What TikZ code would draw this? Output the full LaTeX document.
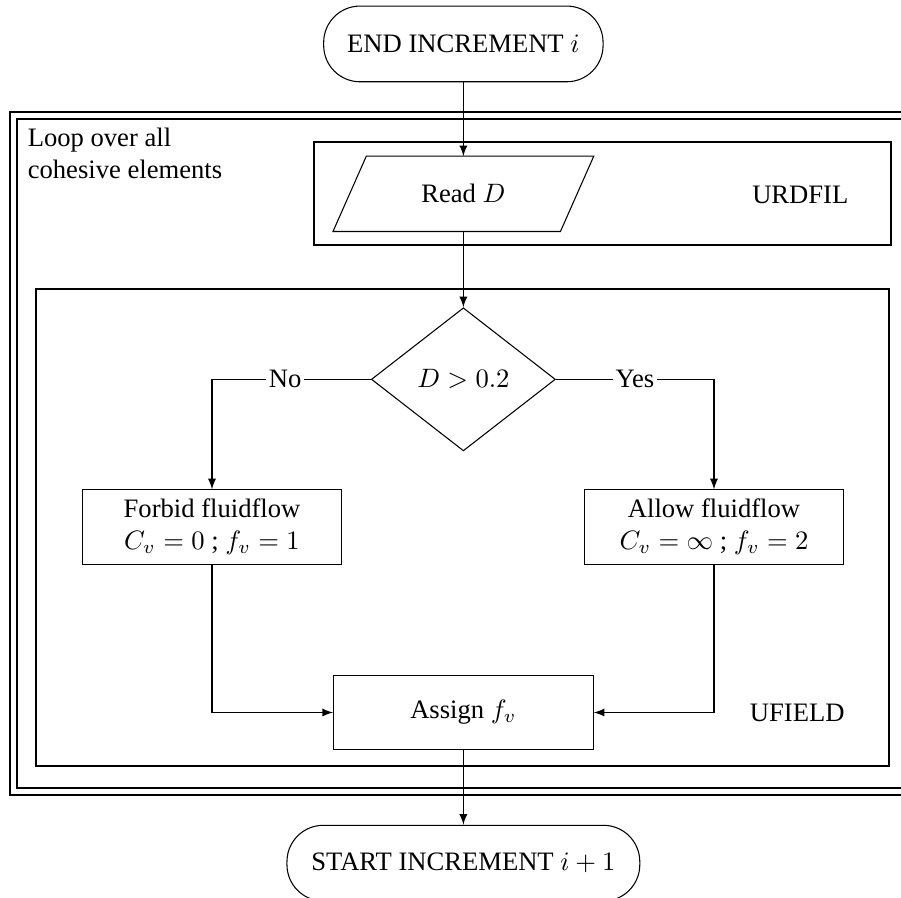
\documentclass[tikz,border=0pt]{standalone}
\usepackage[no-math]{fontspec}
\setmainfont{Liberation Serif}
\usepackage{amsmath}
\usetikzlibrary{shapes,arrows,positioning,calc}

\begin{document}
\begin{tikzpicture}[
    terminal/.style={rectangle, draw, rounded corners=0.48cm, minimum height=1cm, inner sep=0pt},
    process/.style={rectangle, draw, minimum width=3.43cm, minimum height=0.98cm, align=center, inner sep=0pt},
    io/.style={rectangle, minimum width=3.43cm, minimum height=0.98cm, inner sep=0pt},
    decision/.style={diamond, draw, minimum width=2.43cm, minimum height=1.89cm, inner sep=0pt},
    module/.style={rectangle, draw, line width=0.75pt, inner sep=0pt},
    loopframe/.style={rectangle, draw, double, double distance=1.8pt, line width=0.75pt, inner sep=0pt},
    branch/.style={fill=white, inner sep=1pt},
    arrow/.style={->, >=latex}
]
    \useasboundingbox (0,0) rectangle (11.90,-11.86);

    % loop over the cohesive elements, with the two user subroutines inside
    \node[loopframe, minimum width=11.87cm, minimum height=8.92cm] (loop) at (6.115,-5.99) {};
    \node[anchor=north west, align=left, inner sep=0pt] (looptext) at (0.36,-1.68) {Loop over all\\cohesive elements};
    \node[module, minimum width=7.62cm, minimum height=1.36cm] (urdfil) at (7.96,-2.56) {};
    \node[module, minimum width=11.26cm, minimum height=6.30cm] (ufield) at (6.11,-6.97) {};
    \node (urdfiltext) at (10.57,-2.58) {URDFIL};
    \node (ufieldtext) at (10.53,-9.41) {UFIELD};

    \node[terminal, minimum width=3.69cm] (endinc) at (6.12,-0.58) {END INCREMENT $i$};
    \node[io] (read) at (6.12,-2.56) {Read $D$};
    \draw (read.south west) -- ($(read.north west)+(0.44,0)$) -- (read.north east)
        -- ($(read.south east)-(0.44,0)$) -- cycle;
    \node[decision] (dec) at (6.12,-5.01) {$D > 0.2$};
    \node[process] (forbid) at (2.80,-6.96) {Forbid fluidflow\\$C_v = 0$ ; $f_v = 1$};
    \node[process] (allow) at (9.43,-6.96) {Allow fluidflow\\$C_v = \infty$ ; $f_v = 2$};
    \node[process] (assign) at (6.12,-9.41) {Assign $f_v$};
    \node[terminal, minimum width=4.66cm] (startinc) at (6.12,-11.40) {START INCREMENT $i+1$};

    \draw[arrow] (endinc) -- (read);
    \draw[arrow] (read) -- (dec);
    \draw[arrow] (dec.west) -| node[branch, pos=0.27] {No} (forbid.north);
    \draw[arrow] (dec.east) -| node[branch, pos=0.25] {Yes} (allow.north);
    \draw[arrow] (forbid.south) |- (assign.west);
    \draw[arrow] (allow.south) |- (assign.east);
    \draw[arrow] (assign) -- (startinc);
\end{tikzpicture}
\end{document}
